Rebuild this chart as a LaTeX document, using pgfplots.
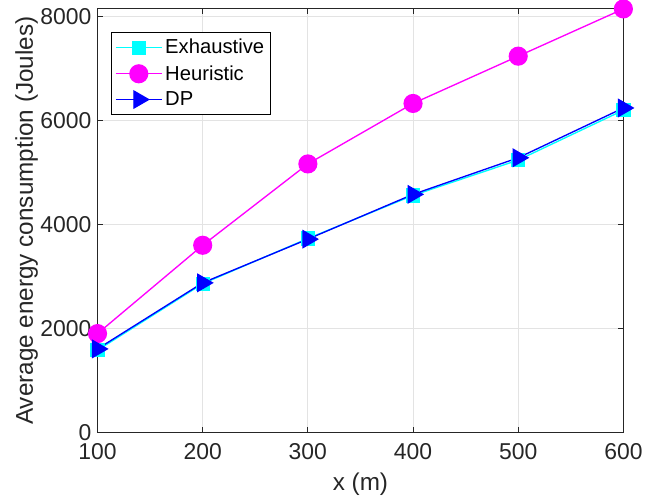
\documentclass[border=0pt]{standalone}
\usepackage{pgfplots}
\pgfplotsset{compat=1.18}
\usepackage{fontspec}
\setmainfont{Liberation Sans}
\definecolor{axgray}{gray}{0.15}
\definecolor{mcyan}{rgb}{0,1,1}
\definecolor{mmag}{rgb}{1,0,1}
\definecolor{mblue}{rgb}{0,0,1}
\begin{document}
\begin{tikzpicture}
\begin{axis}[
  scale only axis,
  width=390pt, height=314pt,
  xmin=100, xmax=600, ymin=0, ymax=8150,
  xtick={100,200,300,400,500,600},
  ytick={0,2000,4000,6000,8000},
  scaled y ticks=false,
  /pgf/number format/assume math mode=true,
  /pgf/number format/1000 sep={},
  tick label style={font=\fontsize{17}{20}\selectfont, text=axgray},
  label style={font=\fontsize{18}{21}\selectfont, text=axgray},
  xticklabel style={yshift=-5pt},
  yticklabel style={xshift=-1pt},
  xlabel={x (m)}, ylabel={Average energy consumption (Joules)},
  xlabel style={yshift=-3pt},
  ylabel style={yshift=-5pt},
  xmajorgrids, ymajorgrids,
  grid style={gray!22, line width=0.6pt},
  axis line style={axgray, line width=0.75pt},
  tick style={axgray, line width=0.75pt},
  tick align=inside,
  major tick length=4pt,
  legend style={at={(0.025,0.945)}, anchor=north west, draw=black, line width=0.6pt,
    font=\fontsize{15}{18}\selectfont, row sep=3pt, inner sep=3pt,
    nodes={inner sep=2pt}},
  legend cell align=left,
  legend image code/.code={
    \draw[mark repeat=2,mark phase=2] plot coordinates {(0cm,0cm) (0.6cm,0cm) (1.2cm,0cm)};},
]
\addplot[mcyan, line width=1pt, mark=square*, mark size=4.8pt, mark options={fill=mcyan, draw=mcyan}]
  coordinates {(100,1580) (200,2860) (300,3730) (400,4560) (500,5240) (600,6200)};
\addlegendentry{Exhaustive}
\addplot[mmag, line width=1pt, mark=*, mark size=6.6pt, mark options={fill=mmag, draw=mmag}]
  coordinates {(100,1900) (200,3600) (300,5166) (400,6330) (500,7240) (600,8150)};
\addlegendentry{Heuristic}
\addplot[mblue, line width=1pt, mark=triangle*, mark size=7.2pt, mark options={fill=mblue, draw=mblue, rotate=-90}]
  coordinates {(100,1605) (200,2877) (300,3718) (400,4580) (500,5284) (600,6243)};
\addlegendentry{DP}
\end{axis}
\path ([xshift=-8pt]current bounding box.west);
\end{tikzpicture}
\end{document}
